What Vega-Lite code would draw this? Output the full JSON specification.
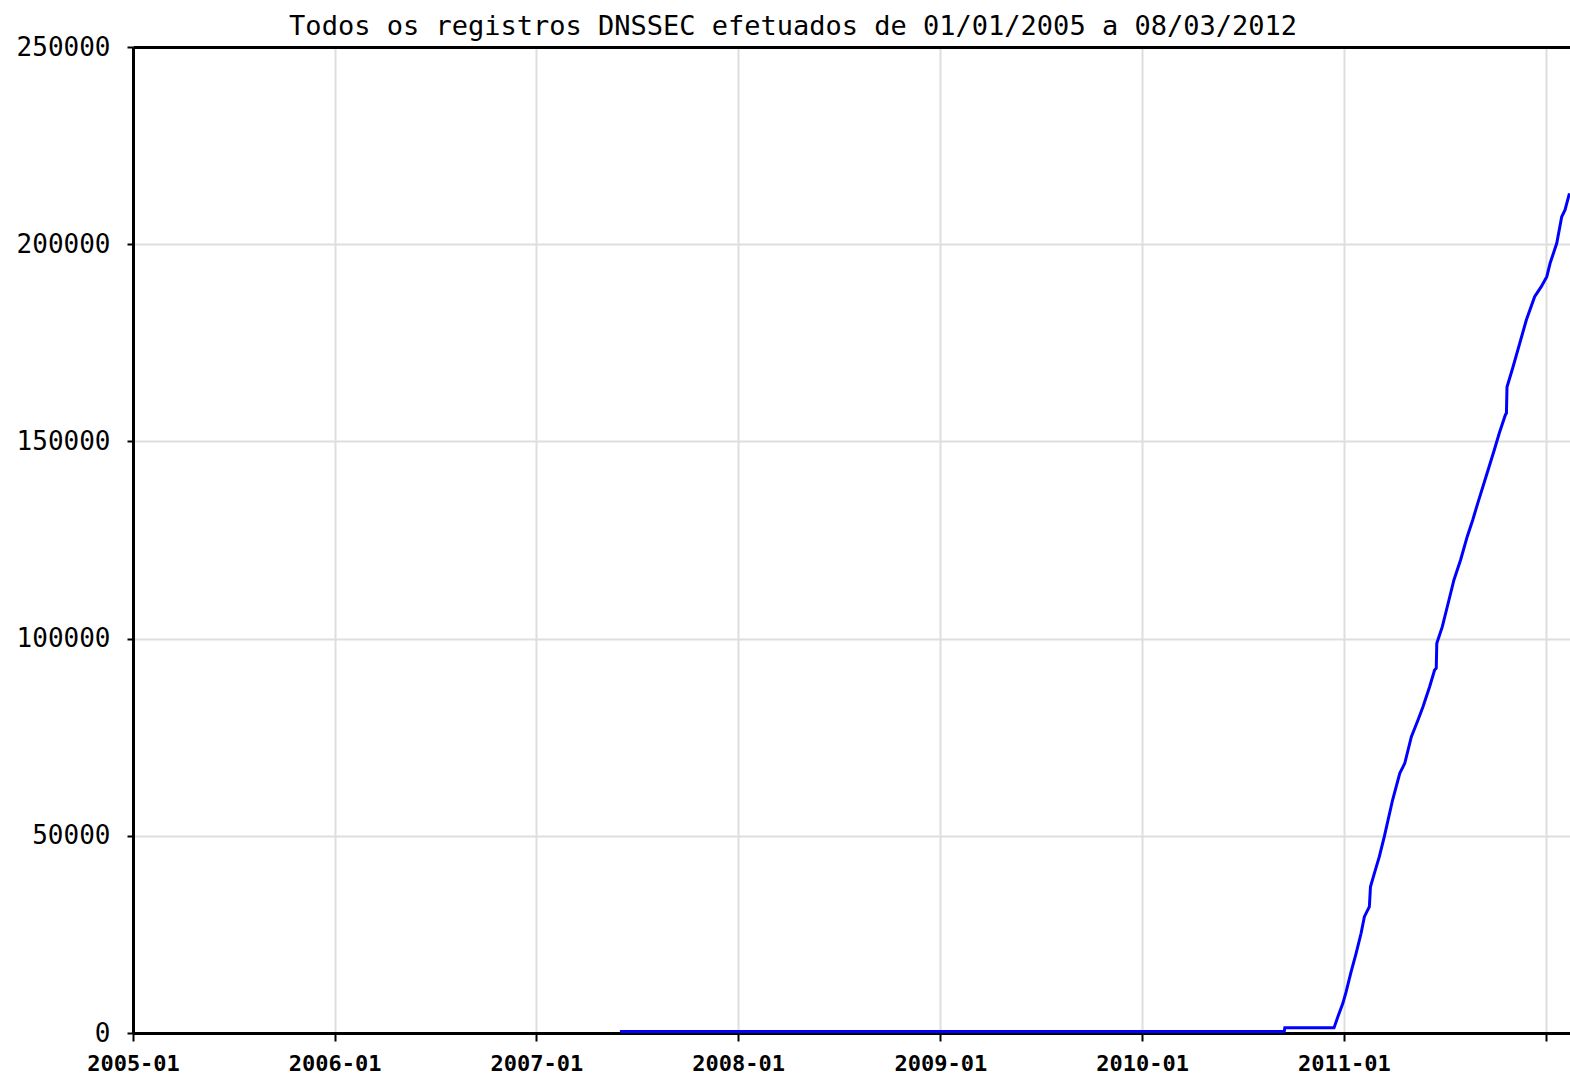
{
  "$schema": "https://vega.github.io/schema/vega-lite/v6.json",
  "width": 1437,
  "height": 986,
  "autosize": {"type": "none"},
  "padding": {"left": 133, "top": 47, "right": 0, "bottom": 43},
  "background": "white",
  "title": {
    "text": "Todos os registros DNSSEC efetuados de 01/01/2005 a 08/03/2012",
    "font": "DejaVu Sans Mono",
    "fontSize": 27,
    "fontWeight": "normal",
    "color": "black",
    "anchor": "middle",
    "frame": "bounds",
    "baseline": "alphabetic",
    "offset": 11,
    "dy": 39
  },
  "config": {"view": {"stroke": null}},
  "data": {
    "values": [
      {"date": "2007-06-01", "value": 400},
      {"date": "2010-09-15", "value": 400},
      {"date": "2010-09-16", "value": 1300},
      {"date": "2010-12-14", "value": 1300},
      {"date": "2010-12-21", "value": 4130},
      {"date": "2010-12-30", "value": 7530},
      {"date": "2011-01-05", "value": 10470},
      {"date": "2011-01-14", "value": 15540},
      {"date": "2011-01-23", "value": 20210},
      {"date": "2011-02-01", "value": 25280},
      {"date": "2011-02-07", "value": 29490},
      {"date": "2011-02-16", "value": 32020},
      {"date": "2011-02-18", "value": 37090},
      {"date": "2011-02-25", "value": 40490},
      {"date": "2011-03-06", "value": 44700},
      {"date": "2011-03-15", "value": 49770},
      {"date": "2011-03-30", "value": 59080},
      {"date": "2011-04-12", "value": 65850},
      {"date": "2011-04-21", "value": 68380},
      {"date": "2011-05-03", "value": 75130},
      {"date": "2011-05-15", "value": 79360},
      {"date": "2011-05-24", "value": 82730},
      {"date": "2011-06-05", "value": 87800},
      {"date": "2011-06-14", "value": 92040},
      {"date": "2011-06-17", "value": 92500},
      {"date": "2011-06-18", "value": 98800},
      {"date": "2011-06-28", "value": 103020},
      {"date": "2011-07-10", "value": 109790},
      {"date": "2011-07-19", "value": 114860},
      {"date": "2011-07-31", "value": 119930},
      {"date": "2011-08-12", "value": 125840},
      {"date": "2011-08-22", "value": 130070},
      {"date": "2011-08-31", "value": 134300},
      {"date": "2011-09-15", "value": 141050},
      {"date": "2011-09-30", "value": 147820},
      {"date": "2011-10-09", "value": 152050},
      {"date": "2011-10-20", "value": 156700},
      {"date": "2011-10-22", "value": 157200},
      {"date": "2011-10-23", "value": 163800},
      {"date": "2011-11-03", "value": 168940},
      {"date": "2011-11-15", "value": 174870},
      {"date": "2011-11-27", "value": 180780},
      {"date": "2011-12-12", "value": 186690},
      {"date": "2011-12-24", "value": 189230},
      {"date": "2012-01-03", "value": 191760},
      {"date": "2012-01-09", "value": 195160},
      {"date": "2012-01-21", "value": 200230},
      {"date": "2012-01-30", "value": 206970},
      {"date": "2012-02-05", "value": 208670},
      {"date": "2012-02-13", "value": 212910}
    ],
    "format": {"parse": {"date": "date"}}
  },
  "mark": {"type": "line", "color": "#0000ff", "strokeWidth": 3, "clip": true},
  "encoding": {
    "x": {
      "field": "date",
      "type": "temporal",
      "scale": {
        "type": "utc",
        "domain": [
          {"year": 2005, "month": 1, "date": 1, "utc": true},
          {"year": 2012, "month": 2, "date": 14, "utc": true}
        ]
      },
      "axis": {
        "title": null,
        "format": "%Y-%m",
        "tickCount": {"interval": "year", "step": 1},
        "labelExpr": "utcyear(datum.value) == 2012 ? '' : datum.label",
        "labelFont": "DejaVu Sans Mono",
        "labelFontWeight": "bold",
        "labelFontSize": 22,
        "labelColor": "black",
        "labelPadding": 12,
        "labelAngle": 0,
        "labelDx": 4,
        "labelFlush": false,
        "labelOverlap": false,
        "labelBound": false,
        "tickSize": 8,
        "tickWidth": 2,
        "tickColor": "black",
        "domainColor": "black",
        "domainWidth": 3,
        "gridColor": "#dedede",
        "gridWidth": 2
      }
    },
    "y": {
      "field": "value",
      "type": "quantitative",
      "scale": {"domain": [0, 250000], "nice": false},
      "axis": {
        "title": null,
        "values": [0, 50000, 100000, 150000, 200000, 250000],
        "format": "d",
        "labelFont": "DejaVu Sans Mono",
        "labelFontSize": 26,
        "labelColor": "black",
        "labelPadding": 17,
        "labelDy": 3,
        "labelFlush": false,
        "labelOverlap": false,
        "tickSize": 6,
        "tickWidth": 2,
        "tickColor": "black",
        "domainColor": "black",
        "domainWidth": 3,
        "gridColor": {"condition": {"test": "datum.value == 250000", "value": "black"}, "value": "#dedede"},
        "gridWidth": {"condition": {"test": "datum.value == 250000", "value": 3}, "value": 2}
      }
    }
  }
}
